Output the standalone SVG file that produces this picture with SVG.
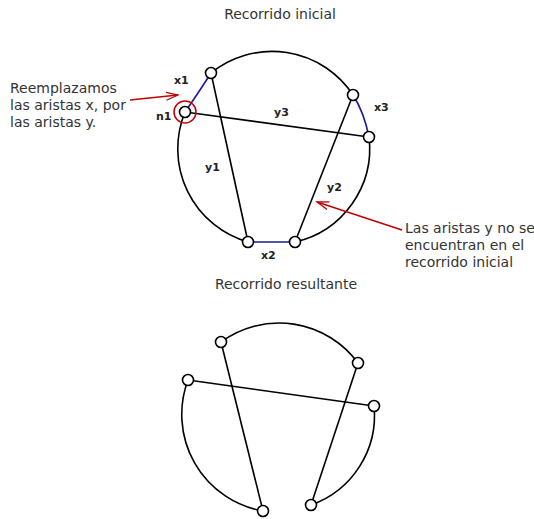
<svg xmlns="http://www.w3.org/2000/svg" width="534" height="519" viewBox="0 0 534 519">
<defs>
<style>
.t{font-family:"DejaVu Sans",sans-serif;font-size:14px;fill:#333}
.l{font-family:"DejaVu Sans",sans-serif;font-size:11px;font-weight:bold;fill:#222}
.e{fill:none;stroke:#000;stroke-width:1.6}
.x{fill:none;stroke:#1a1a9a;stroke-width:1.6}
.n{fill:#fff;stroke:#000;stroke-width:1.6}
.r{fill:none;stroke:#c00000;stroke-width:1.5}
</style>
<marker id="ah" markerWidth="14" markerHeight="10" refX="12" refY="5" orient="auto" markerUnits="userSpaceOnUse">
<path d="M0,1 L12,5 L0,9" fill="none" stroke="#c00000" stroke-width="1.3"/>
</marker>
</defs>
<rect width="534" height="519" fill="#fff"/>
<text class="t" x="280" y="19" text-anchor="middle">Recorrido inicial</text>
<text class="t" x="286" y="289" text-anchor="middle">Recorrido resultante</text>
<g id="note1"><text class="t" x="10" y="93">Reemplazamos</text><text class="t" x="10" y="110">las aristas x, por</text><text class="t" x="10" y="127">las aristas y.</text></g>
<g id="note2"><text class="t" x="405" y="233">Las aristas y no se</text><text class="t" x="405" y="250">encuentran en el</text><text class="t" x="405" y="267">recorrido inicial</text></g>
<g id="connectors">
<path class="e" d="M211,73 A97,97 0 0,1 353,95"/>
<path class="e" d="M369,137 A96,96 0 0,1 295,242"/>
<path class="e" d="M248,242 A97,97 0 0,1 185,112"/>
<path class="x" d="M185,112 Q197,95 211,73"/>
<path class="x" d="M353,95 Q364,112 369,137"/>
<path class="x" d="M248,242 L295,242"/>
<line class="e" x1="211" y1="73" x2="248" y2="242"/>
<line class="e" x1="185" y1="112" x2="369" y2="137"/>
<line class="e" x1="353" y1="95" x2="295" y2="242"/>
<line class="r" x1="130" y1="100" x2="178" y2="95" marker-end="url(#ah)"/>
<line class="r" x1="402" y1="230" x2="317" y2="202" marker-end="url(#ah)"/>
<path class="e" d="M221,342 A98,98 0 0,1 358,363"/>
<path class="e" d="M374,406 A95,95 0 0,1 311,505"/>
<path class="e" d="M263,511 A98,98 0 0,1 188,380"/>
<line class="e" x1="221" y1="342" x2="263" y2="511"/>
<line class="e" x1="188" y1="380" x2="374" y2="406"/>
<line class="e" x1="358" y1="363" x2="311" y2="505"/>
</g>
<g id="labels">
<text class="l" x="174" y="84">x1</text>
<text class="l" x="156" y="120">n1</text>
<text class="l" x="274" y="116">y3</text>
<text class="l" x="374" y="111">x3</text>
<text class="l" x="205" y="171">y1</text>
<text class="l" x="327" y="191">y2</text>
<text class="l" x="261" y="259">x2</text>
</g>
<circle class="r" cx="185" cy="112" r="11"/>
<g id="n1"><circle class="n" cx="185" cy="112" r="5.5"/></g>
<g id="a"><circle class="n" cx="211" cy="73" r="5.5"/></g>
<g id="b"><circle class="n" cx="353" cy="95" r="5.5"/></g>
<g id="c"><circle class="n" cx="369" cy="137" r="5.5"/></g>
<g id="d"><circle class="n" cx="248" cy="242" r="5.5"/></g>
<g id="e"><circle class="n" cx="295" cy="242" r="5.5"/></g>
<g id="f"><circle class="n" cx="221" cy="342" r="5.5"/></g>
<g id="g"><circle class="n" cx="358" cy="363" r="5.5"/></g>
<g id="h"><circle class="n" cx="188" cy="380" r="5.5"/></g>
<g id="i"><circle class="n" cx="374" cy="406" r="5.5"/></g>
<g id="j"><circle class="n" cx="263" cy="511" r="5.5"/></g>
<g id="k"><circle class="n" cx="311" cy="505" r="5.5"/></g>
</svg>
